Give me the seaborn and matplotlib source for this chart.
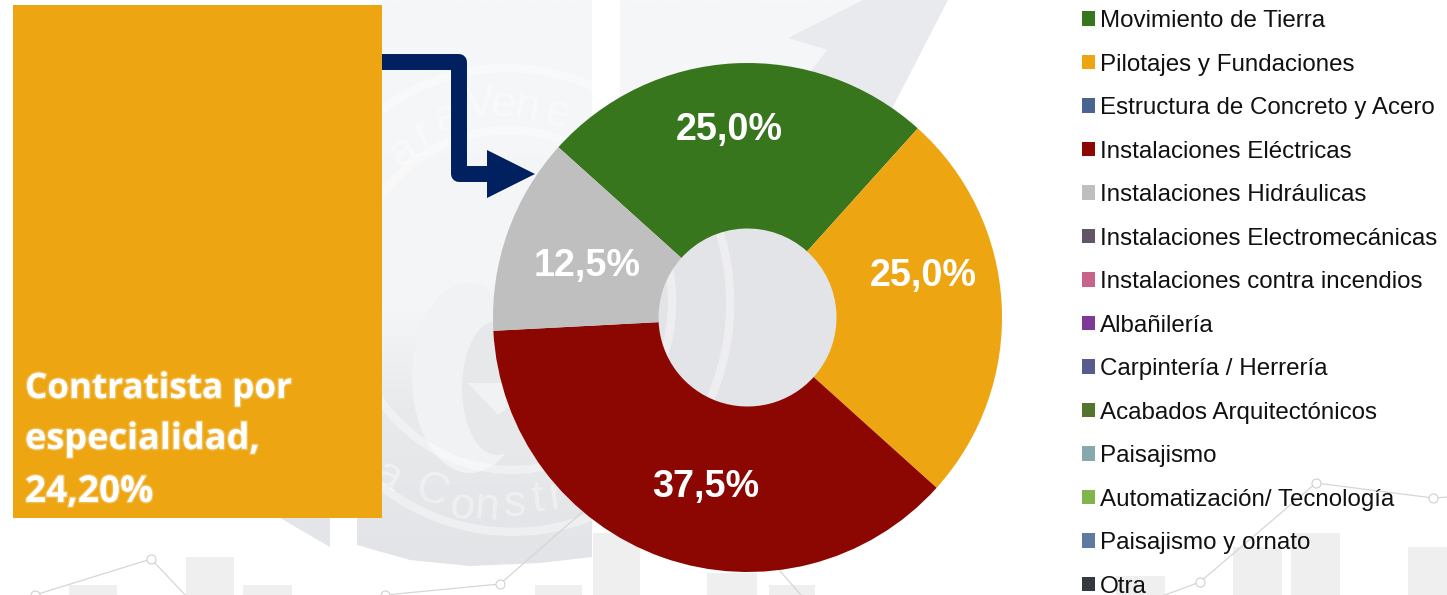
import numpy as np
import matplotlib
matplotlib.use("Agg")
import matplotlib.pyplot as plt
import matplotlib.patheffects as pe
from matplotlib.colors import LinearSegmentedColormap
from matplotlib.patches import Polygon, Ellipse, Rectangle
from matplotlib.lines import Line2D
import seaborn as sns

# ---------- data ----------
categories = ["Movimiento de Tierra", "Pilotajes y Fundaciones", "Estructura de Concreto y Acero",
              "Instalaciones Eléctricas", "Instalaciones Hidráulicas", "Instalaciones Electromecánicas",
              "Instalaciones contra incendios", "Albañilería", "Carpintería / Herrería",
              "Acabados Arquitectónicos", "Paisajismo", "Automatización/ Tecnología",
              "Paisajismo y ornato", "Otra"]
values = [25.0, 25.0, 0, 37.5, 12.5, 0, 0, 0, 0, 0, 0, 0, 0, 0]
colors = ["#38761D", "#EDA512", "#4A6491", "#8C0602", "#BFBFBF", "#625666", "#C8648A",
          "#7A3A96", "#5A5A8C", "#55752F", "#85A9AD", "#82B44E", "#5F7AA0", "#34383F"]
box_lines = ["Contratista por", "especialidad,", "24,20%"]

# watermark decoration (pixel space)
bars = [(69, 585, 48), (186, 557, 48), (243, 585, 49), (535, 585, 47), (593, 533, 47), (707, 573, 50),
        (769, 585, 46), (1116, 576, 49), (1233, 547, 49), (1291, 533, 49), (1408, 547, 39)]
trend_a = [(35, 595), (151, 559), (210, 621)]
trend_b = [(385, 595), (500, 584), (665, 440), (830, 628)]
trend_c = [(1130, 608), (1200, 582), (1316, 483), (1433, 498), (1480, 495)]
wm_letters = [("a", 404, 152, 32), ("r", 424, 132, 26), ("a", 447, 118, 14),
              ("V", 480, 105, 6), ("e", 503, 105, -3), ("n", 527, 108, -10), ("e", 557, 114, -16),
              ("a", 387, 477, -28), ("C", 432, 492, -20), ("o", 462, 507, -12), ("n", 487, 508, -5),
              ("s", 515, 505, 0), ("t", 538, 500, 5), ("r", 557, 497, 8)]

# ---------- figure ----------
sns.set_theme(style="white")
plt.rcParams["font.family"] = ["Liberation Sans", "DejaVu Sans"]
W, H = 1447, 595
fig = plt.figure(figsize=(W / 100, H / 100), dpi=100, facecolor="white")

bg = fig.add_axes([0, 0, 1, 1])
bg.set_axis_off()

grad = LinearSegmentedColormap.from_list("wm", [(0, "#f6f7f8"), (0.55, "#f4f5f6"), (0.72, "#e8eaec"), (1, "#e2e4e7")])
grad_arr = np.linspace(0, 1, 300).reshape(-1, 1)


def grad_poly(pts):
    im = bg.imshow(grad_arr, cmap=grad, extent=(0, W, 566, 0), aspect="auto", zorder=1, vmin=0, vmax=1)
    p = Polygon(pts, closed=True, transform=bg.transData, facecolor="none", edgecolor="none")
    bg.add_patch(p)
    im.set_clip_path(p)


body_left = [(382, 0), (592, 0), (592, 557), (540, 563), (470, 566), (410, 560), (357, 545), (357, 518), (382, 518)]
body_right = [(620, 0), (863, 0), (788, 38), (827, 50), (810, 72), (790, 200), (760, 430), (620, 553)]
grad_poly(body_left)
grad_poly(body_right)
bg.add_patch(Polygon([(280, 518), (330, 518), (330, 547)], closed=True, fc="#e3e5e8", ec="none", zorder=1))
bg.add_patch(Polygon([(788, 38), (863, 0), (948, 0), (845, 200), (810, 72), (827, 50)], closed=True,
                     fc="#e9eaed", ec="none", zorder=1))
bg.add_patch(Rectangle((640, 200), 215, 220, fc="#e3e4e8", ec="none", zorder=1.1))

# emblem rings and inner shapes
bg.add_patch(Ellipse((470, 378), 116, 190, fc="#f1f2f4", ec="none", zorder=1.4))
bg.add_patch(Ellipse((497, 388), 70, 134, fc="#e6e8ea", ec="none", zorder=1.45))
bg.add_patch(Polygon([(468, 383), (540, 383), (498, 415)], closed=True, fc="#f1f2f4", ec="none", zorder=1.46))
for a, b in [(220, 232), (162, 170)]:
    bg.add_patch(Ellipse((510, 300), 2 * a, 2 * b, angle=-7, fc="none", ec="white", lw=6, alpha=0.4, zorder=1.5))
for ch, x, y, rot in wm_letters:
    bg.text(x, y, ch, fontsize=32, color="white", alpha=0.4, rotation=rot, ha="center", va="center", zorder=1.6)

# faded bars and trend lines
for x, top, w in bars:
    bg.add_patch(Rectangle((x, top), w, H - top, fc="#efefef", ec="none", zorder=2))
for trend in (trend_a, trend_b, trend_c):
    xs, ys = zip(*trend)
    bg.plot(xs, ys, color="#d6d6d6", lw=0.9, zorder=2.2, marker="o", ms=6.5, mfc="white", mec="#d0d0d0", mew=0.8)

# orange box and its text
bg.add_patch(Rectangle((13, 5), 369, 513, fc="#EDA512", ec="none", zorder=3))
for line, base, size in zip(box_lines, [398, 449, 502], [25.2, 26, 26.6]):
    bg.text(25, base, line, fontsize=size, family="Open Sans", weight="bold", color="white", va="baseline",
            ha="left", zorder=4, path_effects=[pe.withStroke(linewidth=2, foreground="white", alpha=0.25)])

# navy connector arrow
bg.add_line(Line2D([382, 458.5, 458.5, 490], [62, 62, 174, 174], color="#002060", lw=11.5,
                   solid_joinstyle="round", solid_capstyle="butt", zorder=4))
bg.add_patch(Polygon([(487, 150), (535, 174), (487, 198)], closed=True, fc="#002060", ec="none", zorder=4))

bg.set_xlim(0, W)
bg.set_ylim(H, 0)

# ---------- doughnut ----------
ax = fig.add_axes([493 / W, (H - 572) / H, 509 / W, 509 / H])
ax.patch.set_alpha(0)
palette = sns.color_palette(colors)
wedges, _ = ax.pie(values, colors=palette, startangle=138, counterclock=False, radius=1,
                   wedgeprops=dict(width=1 - 89 / 254.5, linewidth=0, clip_on=False))
ax.set_xlim(-1, 1)
ax.set_ylim(-1, 1)
ax.set_aspect("equal")

label_offsets = {0: (-0.073, 0.737), 1: (0.691, 0.164), 3: (-0.165, -0.665), 4: (-0.629, 0.203)}
for i, (dx, dy) in label_offsets.items():
    ax.text(dx, dy, f"{values[i]:.1f}%".replace(".", ","), color="white", fontsize=27.2, weight="bold",
            ha="center", va="center", clip_on=False)

fig.legend(wedges, categories, loc="upper left", bbox_to_anchor=(1082 / W, 1 - 10 / H), frameon=False,
           fontsize=17.4, labelcolor="#111111", labelspacing=0.89, handlelength=0.54, handleheight=0.54,
           handletextpad=0.2, borderpad=0, borderaxespad=0)

fig.savefig("out.png", dpi=100, facecolor="white")
